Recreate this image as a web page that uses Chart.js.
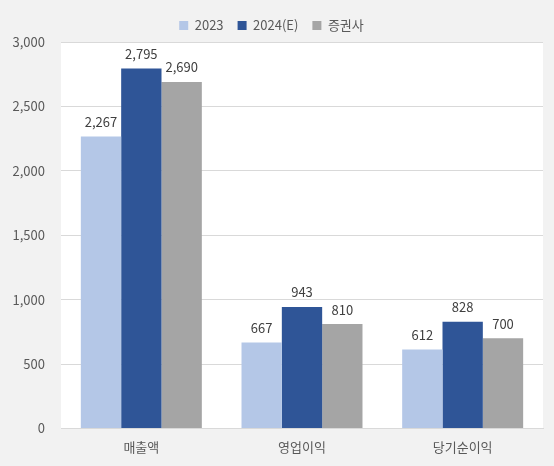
<!DOCTYPE html>
<html>
<head>
<meta charset="utf-8">
<script src="https://cdn.jsdelivr.net/npm/chart.js@4"></script>
<style>
  html, body { margin: 0; padding: 0; background: #f2f2f2; }
  #wrap { width: 554px; height: 466px; }
</style>
</head>
<body>
<div id="wrap"><canvas id="myChart" width="554" height="466"></canvas></div>
<script>
const categories = ['매출액', '영업이익', '당기순이익'];
const seriesNames = ['2023', '2024(E)', '증권사'];
const values2023 = [2267, 667, 612];
const values2024E = [2795, 943, 828];
const valuesBroker = [2690, 810, 700];
const colors = ['#b4c7e7', '#2f5597', '#a5a5a5'];
const fontFamily = '"Noto Sans CJK KR", "Noto Sans", sans-serif';

// white plot area behind bars
const plotBg = {
    id: 'plotBg',
    beforeDraw(chart) {
        const a = chart.chartArea, c = chart.ctx;
        c.save();
        c.fillStyle = '#ffffff';
        c.fillRect(a.left, a.top, a.right - a.left, a.bottom - a.top);
        c.restore();
    }
};

// value labels above bars
const barLabels = {
    id: 'barLabels',
    afterDatasetsDraw(chart) {
        const c = chart.ctx;
        c.save();
        c.font = '13px ' + fontFamily;
        c.fillStyle = '#404040';
        c.textAlign = 'center';
        c.textBaseline = 'bottom';
        chart.data.datasets.forEach((ds, i) => {
            chart.getDatasetMeta(i).data.forEach((bar, j) => {
                c.fillText(ds.data[j].toLocaleString('en-US'), bar.x, bar.y - 8);
            });
        });
        c.restore();
    }
};

const ctx = document.getElementById('myChart').getContext('2d');
const myChart = new Chart(ctx, {
    type: 'bar',
    data: {
        labels: categories,
        datasets: [values2023, values2024E, valuesBroker].map((d, i) => ({
            label: seriesNames[i],
            data: d,
            backgroundColor: colors[i],
            borderWidth: 0,
            categoryPercentage: 0.753,
            barPercentage: 1.0
        }))
    },
    options: {
        responsive: false,
        animation: false,
        layout: { padding: { left: 0, right: 11, top: 5, bottom: 0 } },
        plugins: {
            legend: {
                position: 'top',
                labels: {
                    boxWidth: 9,
                    boxHeight: 9,
                    padding: 14,
                    color: '#595959',
                    font: { family: fontFamily, size: 13 }
                }
            },
            tooltip: { enabled: false }
        },
        scales: {
            x: {
                grid: { display: false, drawTicks: false },
                border: { color: '#d9d9d9', width: 1 },
                ticks: {
                    color: '#595959',
                    padding: 11,
                    font: { family: fontFamily, size: 13 }
                }
            },
            y: {
                min: 0,
                max: 3000,
                afterFit: s => { s.width = 61; },
                grid: { color: '#d9d9d9', drawTicks: false },
                border: { display: false },
                ticks: {
                    stepSize: 500,
                    color: '#595959',
                    padding: 16,
                    font: { family: fontFamily, size: 13 },
                    callback: v => v.toLocaleString('en-US')
                }
            }
        }
    },
    plugins: [plotBg, barLabels]
});
</script>
</body>
</html>
